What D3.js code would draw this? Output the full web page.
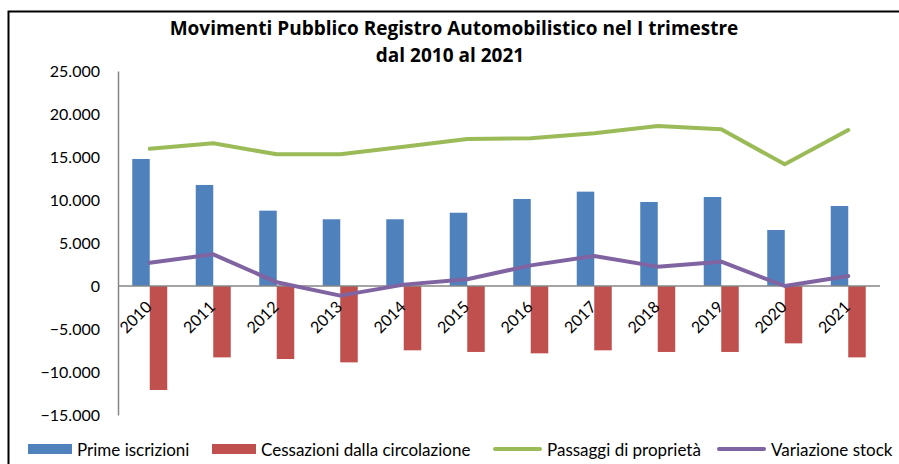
<!DOCTYPE html>
<html>
<head>
<meta charset="utf-8">
<script src="https://cdn.jsdelivr.net/npm/d3@7"></script>
<style>
  body { margin: 0; background: #fff; }
  text { font-family: Lato, "Open Sans", sans-serif; fill: #000; }
</style>
</head>
<body>
<div id="chart"></div>
<script>
const years = ["2010","2011","2012","2013","2014","2015","2016","2017","2018","2019","2020","2021"];
const primeIscrizioni = [14770, 11750, 8760, 7760, 7760, 8520, 10120, 10970, 9770, 10350, 6510, 9300];
const cessazioni = [-12090, -8300, -8490, -8880, -7480, -7670, -7830, -7480, -7670, -7670, -6670, -8300];
const passaggi = [15950, 16590, 15310, 15310, 16200, 17100, 17170, 17750, 18600, 18220, 14150, 18140];
const variazione = [2710, 3680, 430, -1120, 160, 780, 2400, 3490, 2250, 2830, 0, 1160];
const yTicks = [-15000, -10000, -5000, 0, 5000, 10000, 15000, 20000, 25000];

const W = 899, H = 464;
const plot = { left: 118, right: 880, top: 71, bottom: 415 };

const svg = d3.select("#chart").append("svg")
  .attr("width", W)
  .attr("height", H);

// outer frame (runs off right/bottom like the original screenshot)
svg.append("rect")
  .attr("x", 8.5).attr("y", 11.5)
  .attr("width", W).attr("height", H)
  .attr("fill", "none").attr("stroke", "#000").attr("stroke-width", 2);

// title
const title = svg.append("text")
  .attr("text-anchor", "middle")
  .style("font-family", "'Open Sans', sans-serif")
  .style("font-weight", "bold")
  .style("font-size", "19px");
title.append("tspan").attr("x", 454).attr("y", 35)
  .text("Movimenti Pubblico Registro Automobilistico nel I trimestre");
title.append("tspan").attr("x", 450).attr("y", 62)
  .text("dal 2010 al 2021");

const x = d3.scaleBand().domain(years).range([plot.left, plot.right]);
const barW = 17.5;
const xSub = d3.scaleBand().domain(["prime", "cess"])
  .range([x.bandwidth() / 2 - barW, x.bandwidth() / 2 + barW]);
const y = d3.scaleLinear().domain([-15000, 25000]).range([plot.bottom, plot.top]);
const cx = d => x(d) + x.bandwidth() / 2;

const fmt = v => v === 0 ? "0" : d3.format(",")(v).replace(/,/g, ".");

// y axis
const yAxis = svg.append("g")
  .attr("transform", `translate(${plot.left},0)`)
  .call(d3.axisLeft(y).tickValues(yTicks).tickSize(0).tickPadding(18).tickFormat(fmt));
yAxis.select(".domain").attr("stroke", "#868686").attr("stroke-width", 1.5);
yAxis.selectAll("text").style("font-size", "16px").attr("font-family", null);

// bars
svg.append("g").selectAll("rect")
  .data(years.map((yr, i) => ({ yr, v: primeIscrizioni[i] })))
  .join("rect")
  .attr("x", d => x(d.yr) + xSub("prime"))
  .attr("width", xSub.bandwidth())
  .attr("y", d => y(d.v))
  .attr("height", d => y(0) - y(d.v))
  .attr("fill", "#4F81BD");

svg.append("g").selectAll("rect")
  .data(years.map((yr, i) => ({ yr, v: cessazioni[i] })))
  .join("rect")
  .attr("x", d => x(d.yr) + xSub("cess"))
  .attr("width", xSub.bandwidth())
  .attr("y", y(0))
  .attr("height", d => y(d.v) - y(0))
  .attr("fill", "#C0504D");

// zero line
svg.append("line")
  .attr("x1", plot.left).attr("x2", plot.right)
  .attr("y1", y(0)).attr("y2", y(0))
  .attr("stroke", "#868686").attr("stroke-width", 1.5);

// lines
const line = d3.line().x(d => cx(d.yr)).y(d => y(d.v));
[[passaggi, "#9BBB59"], [variazione, "#8064A2"]].forEach(([vals, col]) => {
  svg.append("path")
    .datum(years.map((yr, i) => ({ yr, v: vals[i] })))
    .attr("d", line)
    .attr("fill", "none")
    .attr("stroke", col)
    .attr("stroke-width", 4)
    .attr("stroke-linejoin", "round")
    .attr("stroke-linecap", "round");
});

// x labels
svg.append("g").selectAll("text")
  .data(years)
  .join("text")
  .attr("transform", d => `translate(${cx(d) + 3},${y(0) + 22}) rotate(-45)`)
  .attr("text-anchor", "end")
  .style("font-size", "16px")
  .text(d => d);

// legend
const legendItems = [
  { name: "Prime iscrizioni", color: "#4F81BD", type: "rect", x: 28 },
  { name: "Cessazioni dalla circolazione", color: "#C0504D", type: "rect", x: 212 },
  { name: "Passaggi di proprietà", color: "#9BBB59", type: "line", x: 495 },
  { name: "Variazione stock", color: "#8064A2", type: "line", x: 719 }
];
const lg = svg.append("g").selectAll("g")
  .data(legendItems)
  .join("g")
  .attr("transform", d => `translate(${d.x},449)`);
lg.filter(d => d.type === "rect").append("rect")
  .attr("y", -5).attr("width", 44).attr("height", 10)
  .attr("fill", d => d.color);
lg.filter(d => d.type === "line").append("line")
  .attr("x1", 0).attr("x2", 45)
  .attr("stroke", d => d.color).attr("stroke-width", 4).attr("stroke-linecap", "round");
lg.append("text")
  .attr("x", d => d.type === "rect" ? 49 : 52)
  .attr("y", 7)
  .style("font-size", "17px")
  .text(d => d.name);
</script>
</body>
</html>
